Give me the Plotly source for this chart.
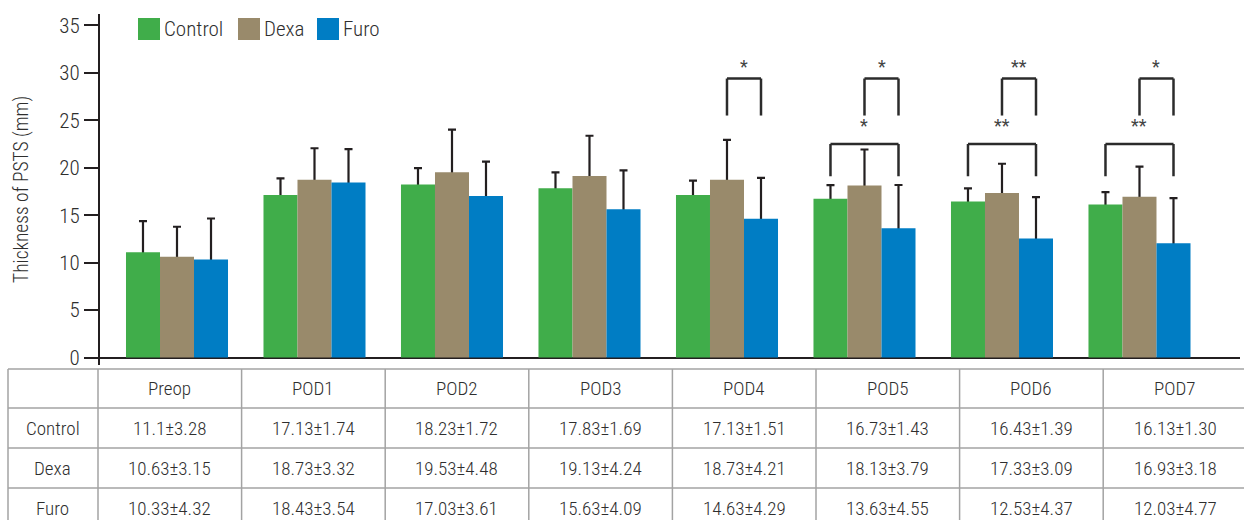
import plotly.graph_objects as go

# ---- data -------------------------------------------------------------
categories = ["Preop", "POD1", "POD2", "POD3", "POD4", "POD5", "POD6", "POD7"]
groups = ["Control", "Dexa", "Furo"]

control_mean = [11.1, 17.13, 18.23, 17.83, 17.13, 16.73, 16.43, 16.13]
control_sd = [3.28, 1.74, 1.72, 1.69, 1.51, 1.43, 1.39, 1.30]
dexa_mean = [10.63, 18.73, 19.53, 19.13, 18.73, 18.13, 17.33, 16.93]
dexa_sd = [3.15, 3.32, 4.48, 4.24, 4.21, 3.79, 3.09, 3.18]
furo_mean = [10.33, 18.43, 17.03, 15.63, 14.63, 13.63, 12.53, 12.03]
furo_sd = [4.32, 3.54, 3.61, 4.09, 4.29, 4.55, 4.37, 4.77]

y_ticks = [0, 5, 10, 15, 20, 25, 30, 35]
y_title = "Thickness of PSTS (mm)"

# significance brackets: (category, first group, second group, label, tier)
sig_brackets = [
    ("POD4", "Dexa", "Furo", "*", "upper"),
    ("POD5", "Dexa", "Furo", "*", "upper"),
    ("POD5", "Control", "Furo", "*", "lower"),
    ("POD6", "Dexa", "Furo", "**", "upper"),
    ("POD6", "Control", "Furo", "**", "lower"),
    ("POD7", "Dexa", "Furo", "*", "upper"),
    ("POD7", "Control", "Furo", "**", "lower"),
]

# ---- style ------------------------------------------------------------
colors = {"Control": "#40ad4a", "Dexa": "#998a6b", "Furo": "#007dc4"}
ink = "#231f20"
text_col = "#2e2e2e"
grid_col = "#a3a3a3"
font_family = "Liberation Sans Narrow, Roboto Condensed, DejaVu Sans Condensed, Arial Narrow, Roboto, sans-serif"

W, H = 1244, 520
M_L, M_R, M_T, M_B = 100, 4, 14, 155
BARGAP = 0.258
bar_w = (1 - BARGAP) / len(groups)
offsets = {g: (i - (len(groups) - 1) / 2) * bar_w for i, g in enumerate(groups)}

plot_w = W - M_L - M_R
plot_h = H - M_T - M_B


def px(x):
    return (x - M_L) / plot_w


def py(y):
    return (H - M_B - y) / plot_h


series = [
    ("Control", control_mean, control_sd),
    ("Dexa", dexa_mean, dexa_sd),
    ("Furo", furo_mean, furo_sd),
]

fig = go.Figure()

# transparent carrier bars hold the error bars; the coloured bars drawn
# afterwards hide the lower half, leaving only the upward whisker
for name, mean, sd in series:
    fig.add_bar(
        x=categories, y=mean, offsetgroup=name, name=name,
        marker=dict(color="rgba(0,0,0,0)", line=dict(width=0)),
        error_y=dict(type="data", array=sd, symmetric=True,
                     color=ink, thickness=2.2, width=4),
        showlegend=False, hoverinfo="skip",
    )
for name, mean, sd in series:
    fig.add_bar(
        x=categories, y=mean, offsetgroup=name, name=name,
        marker=dict(color=colors[name], line=dict(width=0)),
        showlegend=False,
    )

shapes = []
annotations = []

# significance brackets
tiers = {"upper": (25.5, 29.4, 30.7), "lower": (19.1, 22.5, 24.4)}
for cat, g1, g2, label, tier in sig_brackets:
    ci = categories.index(cat)
    xa = ci + offsets[g1]
    xb = ci + offsets[g2]
    y_leg, y_top, y_lab = tiers[tier]
    line = dict(color="#2b2b2b", width=2.5)
    shapes.append(dict(type="line", xref="x", yref="y", x0=xa, x1=xa, y0=y_leg, y1=y_top, line=line))
    shapes.append(dict(type="line", xref="x", yref="y", x0=xa, x1=xb, y0=y_top, y1=y_top, line=line))
    shapes.append(dict(type="line", xref="x", yref="y", x0=xb, x1=xb, y0=y_leg, y1=y_top, line=line))
    annotations.append(dict(x=(xa + xb) / 2, y=y_lab, xref="x", yref="y", text=label,
                            showarrow=False, font=dict(size=18, color="#444444", family=font_family),
                            yanchor="middle", xanchor="center"))

# legend
legend_pos = {"Control": 138, "Dexa": 238, "Furo": 317}
for name in groups:
    x0 = legend_pos[name]
    shapes.append(dict(type="rect", xref="paper", yref="paper",
                       x0=px(x0), x1=px(x0 + 22), y0=py(40), y1=py(18),
                       fillcolor=colors[name], line=dict(width=0)))
    annotations.append(dict(x=px(x0 + 24), y=py(29), xref="paper", yref="paper", text=name,
                            showarrow=False, xanchor="left", yanchor="middle",
                            font=dict(size=21, color=text_col, family=font_family, weight=300)))

# y-axis title
annotations.append(dict(x=px(22), y=py(190), xref="paper", yref="paper", text=y_title,
                        textangle=-90, showarrow=False, xanchor="center", yanchor="middle",
                        font=dict(size=19.5, color=text_col, family=font_family, weight=300)))

# data table under the chart
col_edges = [8, 98] + [98 + 143.6 * (i + 1) for i in range(len(categories))]
row_edges = [369, 408, 448, 488, 528]
tline = dict(color=grid_col, width=1.5)
for yv in row_edges:
    shapes.append(dict(type="line", xref="paper", yref="paper",
                       x0=px(col_edges[0]), x1=px(W), y0=py(yv), y1=py(yv), line=tline))
for xv in col_edges:
    shapes.append(dict(type="line", xref="paper", yref="paper",
                       x0=px(xv), x1=px(xv), y0=py(row_edges[0]), y1=py(row_edges[-1]), line=tline))

cell_font = dict(size=19, color=text_col, family=font_family, weight=300)


def cell(text, col, row):
    xc = (col_edges[col] + col_edges[col + 1]) / 2
    yc = (row_edges[row] + row_edges[row + 1]) / 2
    annotations.append(dict(x=px(xc), y=py(yc), xref="paper", yref="paper", text=text,
                            showarrow=False, xanchor="center", yanchor="middle", font=cell_font))


for j, cat in enumerate(categories):
    cell(cat, j + 1, 0)
for r, (name, mean, sd) in enumerate(series):
    cell(name, 0, r + 1)
    for j in range(len(categories)):
        cell(f"{mean[j]:g}±{sd[j]:.2f}", j + 1, r + 1)

fig.update_layout(
    width=W, height=H,
    margin=dict(l=M_L, r=M_R, t=M_T, b=M_B),
    paper_bgcolor="white", plot_bgcolor="white",
    barmode="group", bargap=BARGAP, bargroupgap=0,
    shapes=shapes, annotations=annotations,
    font=dict(family=font_family, color=text_col),
    showlegend=False,
)
fig.update_xaxes(
    type="category", categoryorder="array", categoryarray=categories,
    range=[-0.56, 7.731], showticklabels=False, ticks="",
    showline=False, showgrid=False, zeroline=False,
)
fig.update_yaxes(
    range=[-0.79, 36.2], tickvals=y_ticks,
    showline=True, linecolor=ink, linewidth=2,
    ticks="outside", ticklen=14, tickwidth=2, tickcolor=ink,
    tickfont=dict(size=21, color=text_col, family=font_family, weight=300),
    showgrid=False, zeroline=True, zerolinecolor=ink, zerolinewidth=2,
)

fig.write_html("out.html")
